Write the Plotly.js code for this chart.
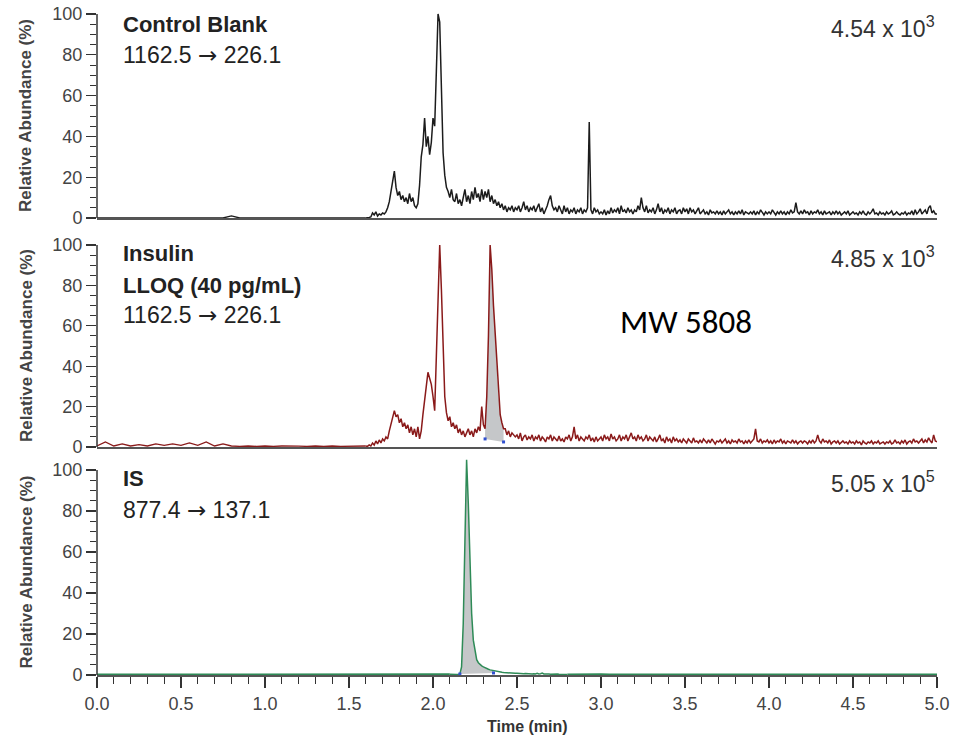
<!DOCTYPE html>
<html><head><meta charset="utf-8">
<script src="https://cdn.plot.ly/plotly-3.0.1.min.js"></script>
<style>html,body{margin:0;padding:0;background:#fff}#chart{width:961px;height:735px}</style>
</head><body><div id="chart"></div>
<script>
// ---------------- DATA ----------------
// sampling of the chromatogram segments (min)
const preStart = 0, preStep = 0.05;      // 0.00 - 1.60
const mainStart = 1.6, mainStep = 0.01;  // 1.60 - 5.00

// Control Blank, 1162.5 -> 226.1 (relative abundance %)
const blankPre = [0,0,0,0,0,0,0,0,0,0, 0,0,0,0,0,0,1,0,0,0, 0,0,0,0,0,0,0,0,0,0, 0,0,0];
const blankMain = [
0,0,0.3,0.5,2.5,1.5,3,1,2,1.5,
2.5,2,3,5,8,13,18,23,15,11,
13,9,11,8,10,7,12,8,10,6,
5,7,16,30,36,49,35,40,31,37,
49,45,72,100,96,58,32,21,15,13,
10,14,9,8,12,7,9,6,10,14,
8,11,7,13,9,15,10,12,8,14,
9,13,10,14,8,11,7,9,6,8,
5,7,4,6,3,5,4,6,3,5,
4,6,3,5,8,4,6,3,5,4,
6,3,5,7,3,5,2,4,6,9,
11,6,4,5,3,6,4,2,6,3,
5,2,4,3,5,2,4,3,5,2,
4,3,5,47,4,2,5,3,4,2,
3,2,4,1.5,3.5,2,5,2.5,4,3,
5,2,6,3,4,2.5,5,3,4,2,
4,3,6,4,10,5,3,6,2.5,4,
3,5,2,4,7,3,5,2,4,3,
5,2,4,3,5,2,3.5,4,2,5,
3,4.5,2,5,3,4,2,3.5,5,2,
3,4,2,3,1.5,4,2.5,3,2,3.5,
2,3,1.5,3.5,2,3,4,2,3,1.5,
3,2,3.5,2,4,1.5,3,2.5,2,3,
2,3.5,1.5,3,2,4,2.5,1.5,3,2,
3,2,4,2.5,1.5,3,2,3.5,2,3,
1.5,3,2,4,2.5,3,7.5,3,2,3.5,
2,4,2.5,3,1.5,3.5,2,3,2.5,4,
2,3,1.5,3.5,2,2.5,3,1.5,3,2,
3.5,2,3,1.5,2.5,3,2,3.5,1.5,2.5,
3,2,2.5,1.5,3,2,3.5,2,1.5,3,
2,3,4.5,2,2.5,1.5,3,2,2.5,1.5,
3,2,2.5,3.5,1.5,2,3,2,1.5,2.5,
2,3,1.5,2.5,2,3.5,1.5,4,2,3,
4.5,2,3,4,2,5,6,2.5,3.5,2,
2];

// Insulin LLOQ (40 pg/mL), 1162.5 -> 226.1
const insulinPre = [0.5,2.5,0.5,1.5,0.5,1.2,0.5,1.5,0.8,1.5, 0.8,2,0.8,2.5,0.5,1.5,0.5,0.3,0.5,0.3, 0.5,0.3,0.5,0.3,0.4,0.3,0.5,0.3,0.5,0.3, 0.4,0.3,0.5];
const insulinMain = [
0.5,0.3,1,0.5,2,1,3,1.5,3.5,2,
4,3,5,4,8,11,14,18,15,16,
12,14,10,12,9,11,7,10,6,9,
5,10,4,8,16,22,30,37,34,31,
25,18,45,80,100,78,45,25,17,13,
15,10,12,9,11,7,9,6,8,5,
7,9,6,8,5,9,7,10,8,20,
11,9,25,55,100,88,70,55,40,26,
16,12,9,9,6,8,5,7,6,5,
6,4,7,3,5,6,3.5,5,4,6,
3,5,4,6,3,5,4,2.5,5,4,
6,3,5,4,3,5.5,3,4,2.5,5,
4,6,3,5,10,4,6,3,5,4,
3,5,4,6,3,4.5,2.5,5,3,4,
5,3,6,4,5,3,6.5,4,5,3,
4,6,3,5,4,6,3,5,7,4,
5,3,6,4,5,3,4,6,3,5,
4,3,5,2.5,4,6,3,4,2,5,
3,4,2,5,3,4,2.5,3.5,2,4,
3,2,4,3,2,4.5,2.5,3,2,3.5,
2,4,3,2,3.5,2,4,2.5,1.5,3,
2.5,3.5,2,3,4,2,3,1.5,3.5,2.5,
3,2,4,2.5,3,1.5,3,2,3.5,2,
3,4,9,3,2.5,4,2,3,2.5,3.5,
2,3,1.5,3.5,2,3,2.5,4,2,3,
1.5,3,2.5,2,3.5,2,3,1.5,2.5,3,
2,3,2.5,1.5,3,2,3.5,2,3,6,
3,2,4,2.5,3,2,3.5,1.5,2.5,3,
2,3,1.5,2.5,3,2,2.5,1.5,3,2,
2.5,1.5,3,2,2.5,1,3,2,1.5,2.5,
2,3,1.5,2.5,2,3,1.5,2,2.5,1.5,
2.5,2,3,1.5,2,3.5,2,2.5,1.5,3,
2,3.5,1.5,2.5,3,2,4,2.5,3,2,
3,4,2,3.5,2.5,4.5,3,2,6,3,
2.5];
const insulinPeakWindow = [2.31, 2.42];   // integrated peak (min)
const insulinPeakBase = [4, 2.5];         // baseline at window ends (%)

// IS, 877.4 -> 137.1
const isPreStart = 0, isPreStep = 0.05;      // 0.00 - 2.10
const isPeakStart = 2.1, isPeakStep = 0.01;  // 2.10 - 2.80
const isPostStart = 2.8, isPostStep = 0.05;  // 2.80 - 5.00
const isPre = [0.3,0.3,0.4,0.3,0.3,0.3,0.4,0.3,0.3,0.3, 0.4,0.3,0.3,0.3,0.4,0.3,0.3,0.3,0.4,0.3, 0.3,0.3,0.4,0.3,0.3,0.3,0.4,0.3,0.3,0.3, 0.4,0.3,0.3,0.3,0.4,0.3,0.3,0.3,0.4,0.3, 0.3,0.3,0.4];
const isPeak = [
0.4,0.3,0.3,0.4,0.3,0.3,0.5,4,25,65,
105,84,52,30,17,11,7.5,6,5,4.5,
4,3.5,3,2.8,2.5,2.3,2,1.8,1.6,1.5,
1.4,1.3,1.2,1.1,1,1,0.9,0.9,0.8,0.8,
0.8,0.7,0.7,0.8,0.6,0.7,0.6,0.6,0.7,0.5,
0.6,0.5,0.8,0.5,0.6,0.9,0.5,0.6,0.4,0.5,
0.4,0.5,0.4,0.4,0.5,0.4,0.4,0.3,0.4,0.3,
0.3];
const isPost = [0.3,0.4,0.3,0.3,0.4,0.3,0.3,0.3,0.4,0.3, 0.3,0.4,0.3,0.3,0.3,0.4,0.3,0.3,0.4,0.3, 0.3,0.3,0.4,0.3,0.3,0.4,0.3,0.3,0.3,0.4, 0.3,0.3,0.4,0.3,0.3,0.3,0.4,0.3,0.3,0.4, 0.3,0.3,0.3,0.4,0.3];
const isPeakWindow = [2.16, 2.36];
const isPeakBase = [0.5, 1.0];

// texts
const ARROW = '<span style="font-family:DejaVu Sans">\u2192</span>';
const panelLabels = [
  ['<b>Control Blank</b>', '1162.5 ' + ARROW + ' 226.1'],
  ['<b>Insulin</b>', '<b>LLOQ (40 pg/mL)</b>', '1162.5 ' + ARROW + ' 226.1'],
  ['<b>IS</b>', '877.4 ' + ARROW + ' 137.1']
];
const scaleLabels = ['4.54 x 10<sup>3</sup>', '4.85 x 10<sup>3</sup>', '5.05 x 10<sup>5</sup>'];
const noteLabel = 'MW 5808';
const yTitle = '<b>Relative Abundance (%)</b>';
const xTitle = '<b>Time (min)</b>';
const yMajorTicks = [0, 20, 40, 60, 80, 100];
const yMinorTicks = [5,10,15,25,30,35,45,50,55,65,70,75,85,90,95];
const xMajorTicks = [0, 0.5, 1, 1.5, 2, 2.5, 3, 3.5, 4, 4.5, 5];
const xTickText = ['0.0','0.5','1.0','1.5','2.0','2.5','3.0','3.5','4.0','4.5','5.0'];
const xMinorTicks = [0.1,0.2,0.3,0.4,0.6,0.7,0.8,0.9,1.1,1.2,1.3,1.4,1.6,1.7,1.8,1.9,2.1,2.2,2.3,2.4,2.6,2.7,2.8,2.9,3.1,3.2,3.3,3.4,3.6,3.7,3.8,3.9,4.1,4.2,4.3,4.4,4.6,4.7,4.8,4.9];

// ---------------- DRAWING ----------------
const FONT = 'Liberation Sans, Arial, Helvetica, sans-serif';
const colors = {blank:'#1c1c1c', insulin:'#8a1a1a', is:'#2e8b57', fill:'#c5c7c9', base:'#3050d0', axis:'#555555', text:'#222222', tick:'#444444'};

// page geometry helpers (plot area: x 97..937, y 0..675 px)
const PLOT_H = 675, PLOT_L = 97, PLOT_W = 840;
const py = p => (PLOT_H - p) / PLOT_H;
const px = p => (p - PLOT_L) / PLOT_W;

function line(x0, dx, vals, color, xa, ya, w) {
  return {type:'scatter', mode:'lines', x0:x0, dx:dx, y:vals, xaxis:xa, yaxis:ya,
          line:{color:color, width:w}, hoverinfo:'skip', showlegend:false};
}
function peakArea(x0, dx, vals, win, base, xa, ya) {
  const xs = [], ys = [];
  vals.forEach((v, i) => {
    const t = +(x0 + i * dx).toFixed(4);
    if (t >= win[0] - 1e-9 && t <= win[1] + 1e-9) { xs.push(t); ys.push(v); }
  });
  xs.push(win[1], win[0]); ys.push(base[1], base[0]);
  return [
    {type:'scatter', mode:'lines', x:xs, y:ys, fill:'toself', fillcolor:colors.fill,
     line:{width:0, color:colors.fill}, xaxis:xa, yaxis:ya, hoverinfo:'skip', showlegend:false},
    {type:'scatter', mode:'markers', x:win, y:base, xaxis:xa, yaxis:ya,
     marker:{symbol:'square', size:3, color:colors.base, line:{width:0}}, hoverinfo:'skip', showlegend:false}
  ];
}

const insArea = peakArea(mainStart, mainStep, insulinMain, insulinPeakWindow, insulinPeakBase, 'x2', 'y2');
const isArea = peakArea(isPeakStart, isPeakStep, isPeak, isPeakWindow, isPeakBase, 'x3', 'y3');

const data = [
  line(preStart, preStep, blankPre, colors.blank, 'x', 'y', 1.3),
  line(mainStart, mainStep, blankMain, colors.blank, 'x', 'y', 1.5),
  insArea[0],
  line(preStart, preStep, insulinPre, colors.insulin, 'x2', 'y2', 1.3),
  line(mainStart, mainStep, insulinMain, colors.insulin, 'x2', 'y2', 1.5),
  insArea[1],
  isArea[0],
  line(isPreStart, isPreStep, isPre, colors.is, 'x3', 'y3', 1.8),
  line(isPeakStart, isPeakStep, isPeak, colors.is, 'x3', 'y3', 1.5),
  line(isPostStart, isPostStep, isPost, colors.is, 'x3', 'y3', 1.8),
  isArea[1]
];

function yAxis(domain, anchor) {
  return {domain:domain, anchor:anchor, range:[0, 106], tickmode:'array', tickvals:yMajorTicks,
    ticks:'outside', ticklen:10, tickwidth:1.2, tickcolor:'#333',
    tickfont:{family:FONT, size:18, color:colors.tick},
    showline:false, showgrid:false, zeroline:false, fixedrange:true,
    minor:{tickmode:'array', tickvals:yMinorTicks, ticks:'outside', ticklen:6, tickwidth:1, tickcolor:'#333', showgrid:false}};
}
function xAxis(anchor, labels) {
  const ax = {domain:[0,1], anchor:anchor, range:[0,5], showgrid:false, zeroline:false, fixedrange:true,
    showline:true, linecolor:colors.axis, linewidth:2};
  if (labels) {
    Object.assign(ax, {tickmode:'array', tickvals:xMajorTicks, ticktext:xTickText, ticks:'outside',
      ticklen:11, tickwidth:1.2, tickcolor:'#333', tickfont:{family:FONT, size:18, color:colors.tick},
      minor:{tickmode:'array', tickvals:xMinorTicks, ticks:'outside', ticklen:7, tickwidth:1, tickcolor:'#333', showgrid:false}});
  } else {
    Object.assign(ax, {ticks:'', showticklabels:false});
  }
  return ax;
}

const panelTop = [14, 245, 470];      // pixel of 100 %
const panelZero = [218, 447, 675];    // pixel of 0 %
const domains = panelTop.map((t, i) => {
  const z = panelZero[i];
  const top = t - (z - t) * 0.06;
  return [py(z), py(top)];
});

const annotations = [];
const labelY = [[24, 54.5], [253.5, 285.5, 314.5], [478.5, 509.5]];
const labelSize = [[22, 23], [22, 22, 23], [22, 23]];
panelLabels.forEach((lines, i) => lines.forEach((txt, j) => {
  annotations.push({text:txt, xref:'paper', yref:'paper', x:px(121), y:py(labelY[i][j]),
    xanchor:'left', yanchor:'middle', showarrow:false,
    font:{family:FONT, size:labelSize[i][j], color:colors.text}});
}));
const scaleY = [27, 257, 482];
scaleLabels.forEach((txt, i) => annotations.push({text:txt, xref:'paper', yref:'paper', x:px(937), y:py(scaleY[i]),
  xanchor:'right', yanchor:'middle', showarrow:false, font:{family:FONT, size:23, color:'#333'}}));
panelTop.forEach((t, i) => annotations.push({text:yTitle, xref:'paper', yref:'paper', x:px(26),
  y:py((t + panelZero[i]) / 2), xanchor:'center', yanchor:'middle', textangle:-90, showarrow:false,
  font:{family:FONT, size:17, color:colors.tick}}));
annotations.push({text:noteLabel, xref:'paper', yref:'paper', x:px(686), y:py(322), xanchor:'center', yanchor:'middle',
  showarrow:false, font:{family:'Carlito, Open Sans, Noto Sans, sans-serif', size:33, color:'#000'}});
annotations.push({text:xTitle, xref:'paper', yref:'paper', x:px(527), y:py(726), xanchor:'center', yanchor:'middle',
  showarrow:false, font:{family:FONT, size:16, color:'#333'}});

const shapes = ['x', 'x2', 'x3'].map((xa, i) => ({type:'line', xref:xa + ' domain', x0:0, x1:0,
  yref:['y','y2','y3'][i], y0:0, y1:100, line:{color:'#333', width:1.5}}));

const layout = {
  width:961, height:735, paper_bgcolor:'#fff', plot_bgcolor:'rgba(0,0,0,0)',
  margin:{l:PLOT_L, r:961 - PLOT_L - PLOT_W, t:0, b:735 - PLOT_H},
  showlegend:false, font:{family:FONT},
  xaxis:xAxis('y', false), xaxis2:xAxis('y2', false), xaxis3:xAxis('y3', true),
  yaxis:yAxis(domains[0], 'x'), yaxis2:yAxis(domains[1], 'x2'), yaxis3:yAxis(domains[2], 'x3'),
  annotations:annotations, shapes:shapes
};

Plotly.newPlot('chart', data, layout, {displayModeBar:false, staticPlot:true});
</script></body></html>
